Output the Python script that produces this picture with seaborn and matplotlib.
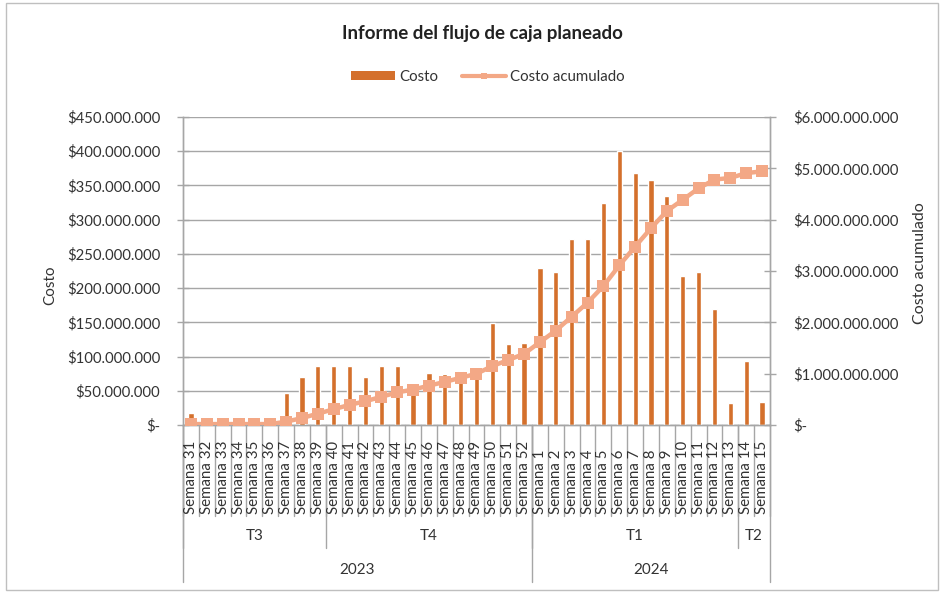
import numpy as np
import pandas as pd
import matplotlib
matplotlib.use("Agg")
import matplotlib.pyplot as plt
import matplotlib.transforms as mtransforms
from matplotlib.patches import Patch, Rectangle
from matplotlib.lines import Line2D
from itertools import groupby
import seaborn as sns

# data
semanas = [f"Semana {n}" for n in range(31, 53)] + [f"Semana {n}" for n in range(1, 16)]
trimestres = ["T3"] * 9 + ["T4"] * 13 + ["T1"] * 13 + ["T2"] * 2
anios = ["2023"] * 22 + ["2024"] * 15
costo_millones = [18, 0, 0, 0, 0, 0, 47, 70, 86, 86, 86, 70, 86, 86, 55, 76, 74, 79, 80,
                  149, 118, 120,
                  229, 224, 272, 272, 325, 400, 368, 358, 335, 218, 224, 170, 32, 94, 34]

bar_color = "#D4702C"
line_color = "#F3A886"
grid_color = "#A6A6A6"

df = pd.DataFrame({"semana": semanas, "costo": np.array(costo_millones) * 1e6})
df["acumulado"] = df["costo"].cumsum()
df["pos"] = np.arange(len(df))

sns.set_style("white")
plt.rcParams["font.family"] = ["Lato", "DejaVu Sans"]

W, H = 948, 592
fig = plt.figure(figsize=(W / 100, H / 100), dpi=100)
ax_l, ax_r, ax_b, ax_t = 183, 770, 425, 117
ax = fig.add_axes([ax_l / W, 1 - ax_b / H, (ax_r - ax_l) / W, (ax_b - ax_t) / H])

sns.barplot(data=df, x="semana", y="costo", color=bar_color, width=0.33,
            saturation=1, ax=ax, zorder=3)
ax.set_ylim(0, 450e6)
ax.set_yticks(np.arange(0, 450e6 + 1, 50e6))
ax.yaxis.grid(True, color=grid_color, lw=1)
ax.set_axisbelow(True)

def money(v, pos=None):
    if abs(v) < 1:
        return "$-"
    return "$" + f"{v:,.0f}".replace(",", ".")

ax.yaxis.set_major_formatter(plt.FuncFormatter(money))
ax.tick_params(axis="y", direction="inout", length=9, width=1, color=grid_color,
               labelsize=10.7, labelcolor="#333333", pad=12)
ax.set_xlabel("")
ax.set_ylabel("")
ax.set_xticks([])

ax2 = ax.twinx()
sns.lineplot(data=df, x="pos", y="acumulado", ax=ax2, color=line_color, lw=3.2,
             marker="s", markersize=8.5, markeredgewidth=0, zorder=4)
ax2.set_ylim(0, 6e9)
ax2.set_yticks(np.arange(0, 6e9 + 1, 1e9))
ax2.yaxis.set_major_formatter(plt.FuncFormatter(money))
ax2.tick_params(axis="y", direction="inout", length=9, width=1, color=grid_color,
                labelsize=10.7, labelcolor="#333333", pad=12)
ax2.set_xlabel("")
ax2.set_ylabel("")
ax.set_xlim(-0.5, len(df) - 0.5)

for a in (ax, ax2):
    for side in ("left", "right", "bottom"):
        a.spines[side].set_color(grid_color)
        a.spines[side].set_linewidth(1)
    a.spines["top"].set_visible(False)

# multi-level category axis
hpx = ax_b - ax_t
def ay(px):
    return -(px - ax_b) / hpx

trans = mtransforms.blended_transform_factory(ax.transData, ax.transAxes)
for i, s in enumerate(semanas):
    ax.text(i, ay(514), s, rotation=90, ha="center", va="bottom", fontsize=10.8,
            color="#333333", transform=trans, clip_on=False)

n = len(semanas)
for x in np.arange(-0.5, n, 1.0):
    ax.plot([x, x], [0, ay(516)], color=grid_color, lw=1, transform=trans, clip_on=False)

start = 0
for lab, grp in groupby(trimestres):
    cnt = len(list(grp))
    ax.plot([start - 0.5] * 2, [0, ay(548)], color=grid_color, lw=1,
            transform=trans, clip_on=False)
    ax.text(start + (cnt - 1) / 2, ay(536), lab, ha="center", va="center",
            fontsize=11, color="#333333", transform=trans, clip_on=False)
    start += cnt

start = 0
for lab, grp in groupby(anios):
    cnt = len(list(grp))
    ax.plot([start - 0.5] * 2, [0, ay(582)], color=grid_color, lw=1,
            transform=trans, clip_on=False)
    ax.text(start + (cnt - 1) / 2, ay(570), lab, ha="center", va="center",
            fontsize=11, color="#333333", transform=trans, clip_on=False)
    start += cnt
ax.plot([n - 0.5] * 2, [0, ay(582)], color=grid_color, lw=1, transform=trans, clip_on=False)

# titles and axis names
fig.text(482 / W, 1 - 33 / H, "Informe del flujo de caja planeado", ha="center",
         va="center", fontsize=13.5, fontweight="bold", color="#222222")
fig.text(50 / W, 1 - 285 / H, "Costo", rotation=90, ha="center", va="center",
         fontsize=11, color="#333333")
fig.text(920 / W, 1 - 263 / H, "Costo acumulado", rotation=90, ha="center",
         va="center", fontsize=11.5, color="#333333")

handles = [Patch(facecolor=bar_color, edgecolor="none"),
           Line2D([0], [0], color=line_color, lw=3, marker="s", markersize=5,
                  markeredgewidth=0)]
fig.legend(handles, ["Costo", "Costo acumulado"], loc="center",
           bbox_to_anchor=(488 / W, 1 - 77 / H), ncol=2, frameon=False,
           fontsize=10.8, handlelength=2.9, handleheight=0.5, columnspacing=1.6,
           handletextpad=0.3, labelcolor="#333333")

fig.patches.append(Rectangle((6 / W, 1 - 590 / H), 932 / W, 587 / H, fill=False,
                             edgecolor="#BFBFBF", lw=1, transform=fig.transFigure))

fig.savefig("out.png", dpi=100)
